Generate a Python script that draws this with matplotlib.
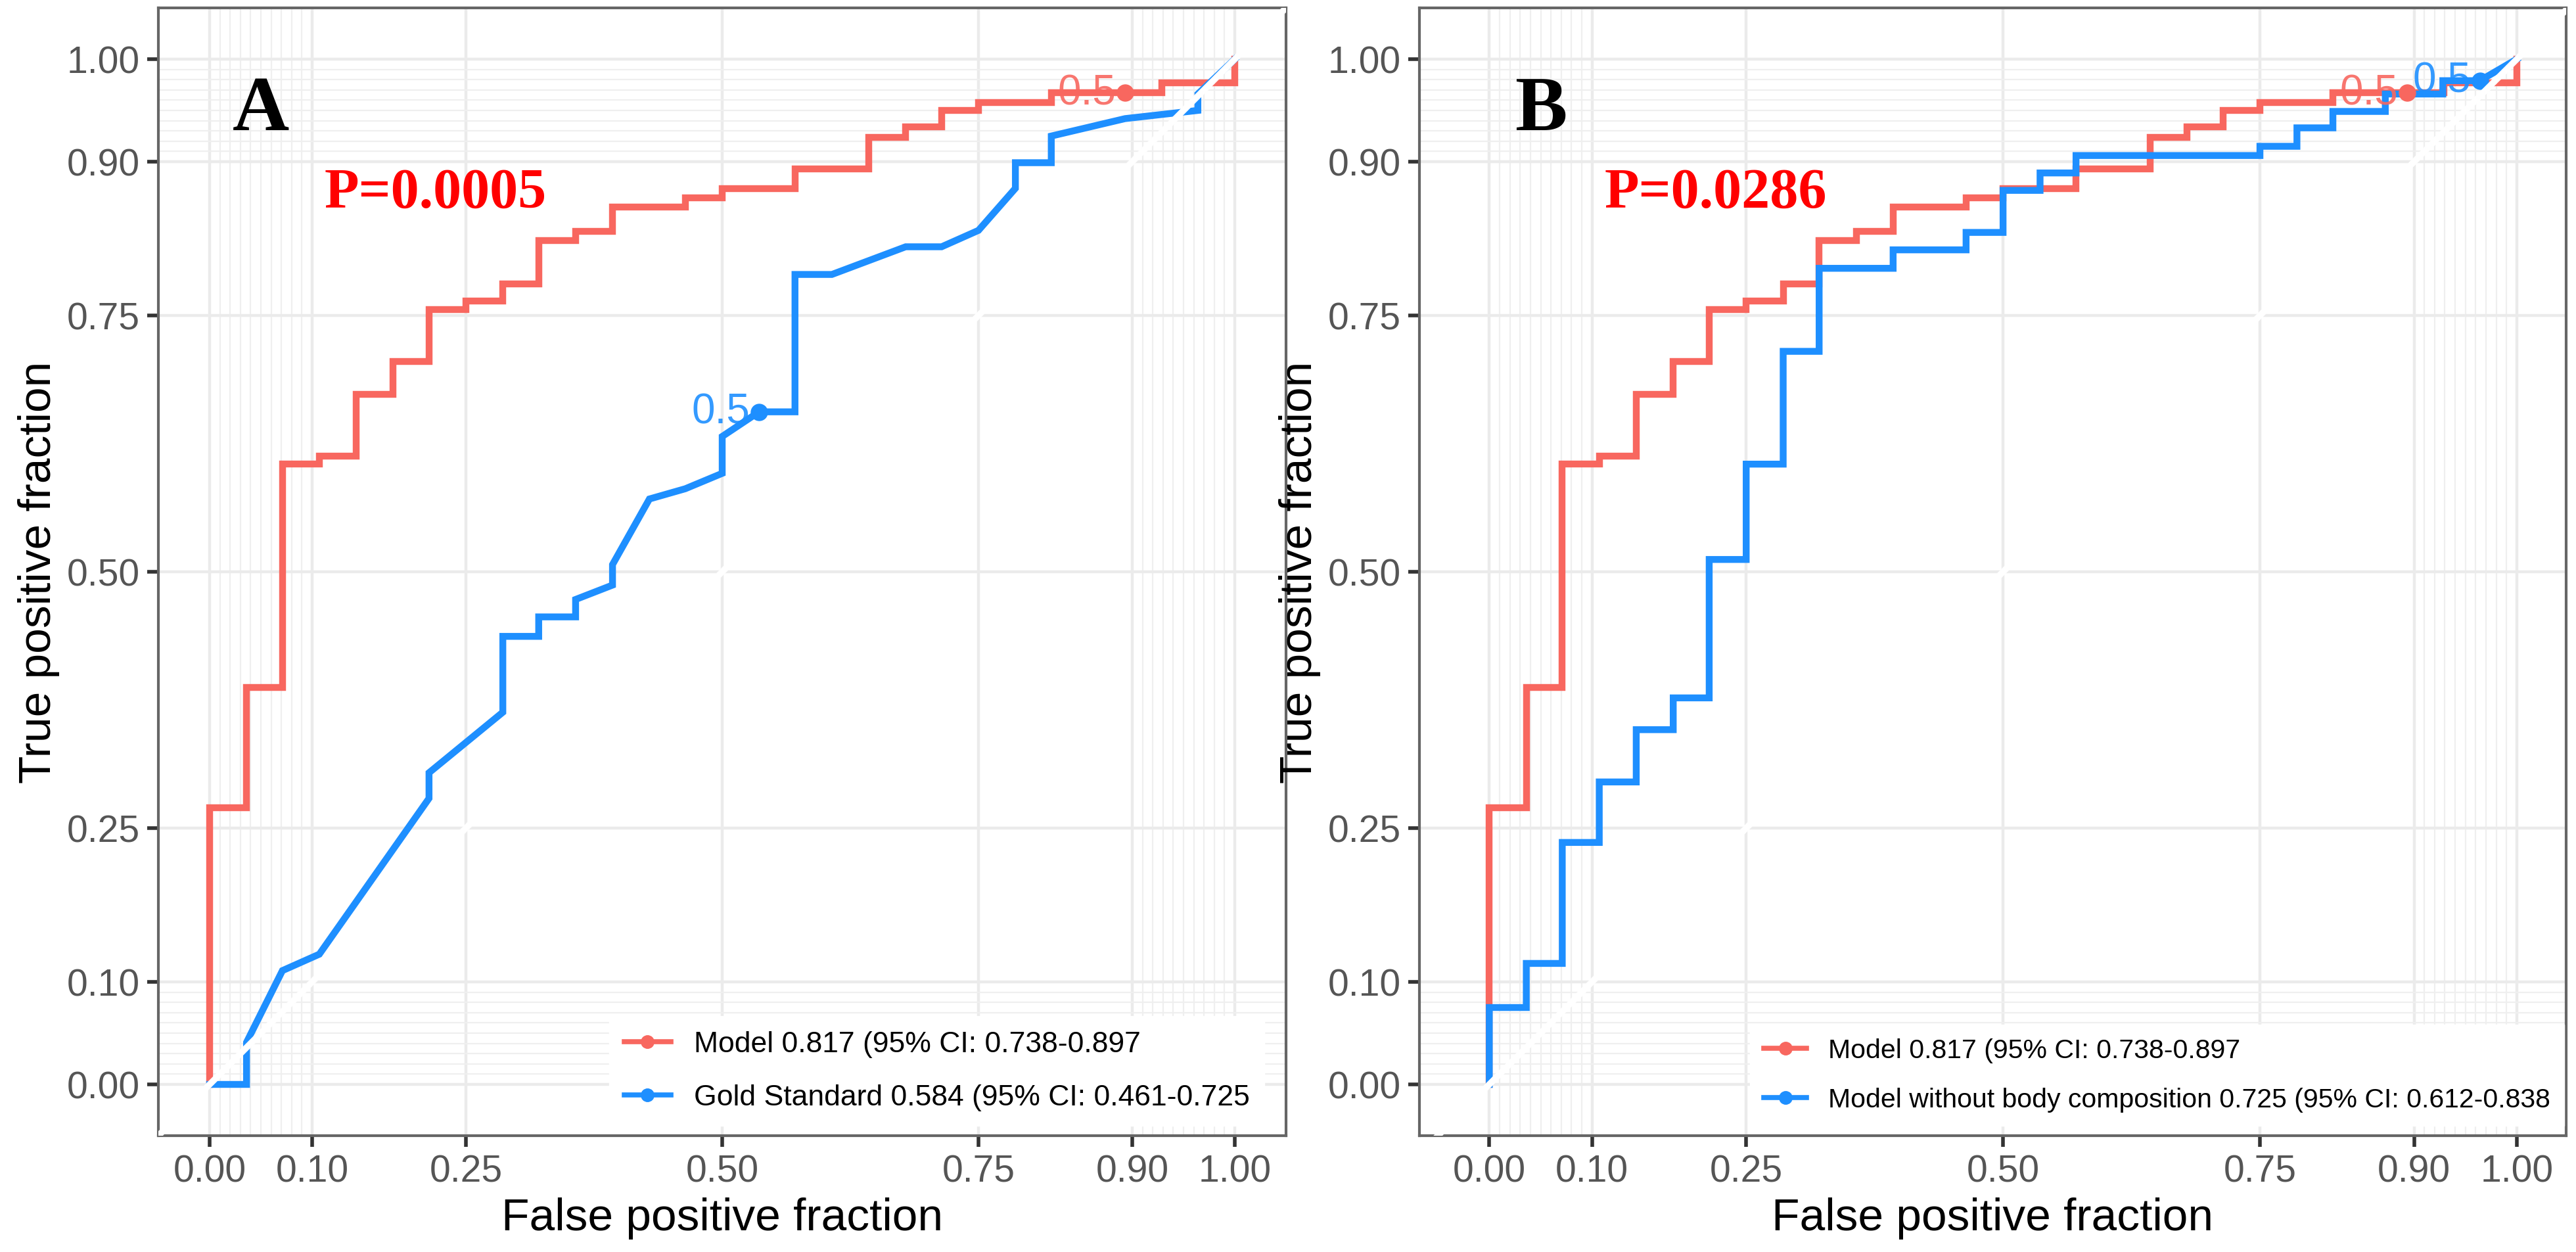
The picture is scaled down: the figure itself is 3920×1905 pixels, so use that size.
import matplotlib
matplotlib.use("Agg")
import matplotlib.pyplot as plt
from matplotlib.lines import Line2D
import numpy as np

# ROC vertices (false positive fraction, true positive fraction)
model_fpr = [0, 0, 0.036, 0.036, 0.071, 0.071, 0.107, 0.107, 0.143, 0.143, 0.179, 0.179,
             0.214, 0.214, 0.25, 0.25, 0.286, 0.286, 0.321, 0.321, 0.357, 0.357, 0.393, 0.393,
             0.464, 0.464, 0.5, 0.5, 0.571, 0.571, 0.643, 0.643, 0.679, 0.679, 0.714, 0.714,
             0.75, 0.75, 0.821, 0.821, 0.929, 0.929, 1.0, 1.0]
model_tpr = [0, 0.270, 0.270, 0.387, 0.387, 0.605, 0.605, 0.613, 0.613, 0.673, 0.673, 0.705,
             0.705, 0.756, 0.756, 0.764, 0.764, 0.781, 0.781, 0.823, 0.823, 0.832, 0.832, 0.856,
             0.856, 0.865, 0.865, 0.874, 0.874, 0.893, 0.893, 0.924, 0.924, 0.934, 0.934, 0.950,
             0.950, 0.958, 0.958, 0.967, 0.967, 0.977, 0.977, 1.0]

gold_fpr = [0, 0.036, 0.036, 0.071, 0.107, 0.214, 0.214, 0.286, 0.286, 0.321, 0.321, 0.357,
            0.357, 0.393, 0.393, 0.429, 0.464, 0.5, 0.5, 0.536, 0.571, 0.571, 0.607, 0.679,
            0.714, 0.75, 0.786, 0.786, 0.821, 0.821, 0.893, 0.964, 0.964, 1.0]
gold_tpr = [0, 0, 0.041, 0.111, 0.127, 0.279, 0.304, 0.363, 0.437, 0.437, 0.456, 0.456,
            0.473, 0.487, 0.507, 0.571, 0.581, 0.596, 0.632, 0.656, 0.656, 0.790, 0.790, 0.817,
            0.817, 0.833, 0.874, 0.899, 0.899, 0.925, 0.942, 0.950, 0.966, 1.0]

nobody_fpr = [0, 0, 0.036, 0.036, 0.071, 0.071, 0.107, 0.107, 0.143, 0.143, 0.179, 0.179,
              0.214, 0.214, 0.25, 0.25, 0.286, 0.286, 0.321, 0.321, 0.393, 0.393, 0.464, 0.464,
              0.5, 0.5, 0.536, 0.536, 0.571, 0.571, 0.75, 0.75, 0.786, 0.786, 0.821, 0.821,
              0.872, 0.872, 0.928, 0.928, 0.964, 1.0]
nobody_tpr = [0, 0.075, 0.075, 0.118, 0.118, 0.236, 0.236, 0.295, 0.295, 0.346, 0.346, 0.377,
              0.377, 0.512, 0.512, 0.605, 0.605, 0.715, 0.715, 0.796, 0.796, 0.814, 0.814, 0.831,
              0.831, 0.872, 0.872, 0.889, 0.889, 0.906, 0.906, 0.915, 0.915, 0.933, 0.933, 0.949,
              0.949, 0.966, 0.966, 0.979, 0.979, 1.0]

# cutoff 0.5 points
model_cut = (0.893, 0.967)
gold_cut = (0.536, 0.656)
nobody_cut = (0.964, 0.979)

model_label = "Model 0.817 (95% CI: 0.738-0.897"
gold_label = "Gold Standard 0.584 (95% CI: 0.461-0.725"
nobody_label = "Model without body composition 0.725 (95% CI: 0.612-0.838"

ticks = [0, 0.1, 0.25, 0.5, 0.75, 0.9, 1.0]
tick_labels = ["0.00", "0.10", "0.25", "0.50", "0.75", "0.90", "1.00"]
minor = list(np.round(np.arange(0, 0.101, 0.01), 2)) + list(np.round(np.arange(0.9, 1.001, 0.01), 2))

RED = "#F8675F"
BLUE = "#1E8FFF"
SANS = "Liberation Sans"
SERIF = "Liberation Serif"


def style_axes(ax, xlim):
    ax.set_xlim(*xlim)
    ax.set_ylim(-0.05, 1.05)
    ax.set_xticks(ticks)
    ax.set_xticklabels(tick_labels)
    ax.set_yticks(ticks)
    ax.set_yticklabels(tick_labels)
    ax.set_xticks(minor, minor=True)
    ax.set_yticks(minor, minor=True)
    ax.tick_params(which="major", length=12, width=4, color="#333333",
                   labelsize=41, labelcolor="#555555", pad=8)
    ax.tick_params(which="minor", length=0)
    for lab in ax.get_xticklabels() + ax.get_yticklabels():
        lab.set_family(SANS)
    ax.grid(which="major", color="#EBEBEB", lw=3.2)
    ax.grid(which="minor", color="#EFEFEF", lw=1.6)
    ax.set_axisbelow(True)
    for s in ax.spines.values():
        s.set_color("#666666")
        s.set_linewidth(3)
    ax.set_xlabel("False positive fraction", fontsize=50, family=SANS, labelpad=8)
    ax.set_ylabel("True positive fraction", fontsize=50, family=SANS, labelpad=8)


def draw_panel(ax, xlim, letter, ptext, curves, legend_anchor, legend_loc, legend_size):
    style_axes(ax, xlim)
    handles = []
    for fpr, tpr, cut, color, label in curves:
        ax.plot(fpr, tpr, color=color, lw=7.5, solid_joinstyle="miter", zorder=3)
        ax.plot([cut[0]], [cut[1]], "o", color=color, ms=18, zorder=4)
        ax.annotate("0.5", cut, xytext=(-10, 0), textcoords="offset points",
                    ha="right", va="center", color=color, fontsize=46, family=SANS,
                    alpha=0.9, zorder=4)
        handles.append(Line2D([0], [0], color=color, lw=5.5, marker="o", ms=14, label=label))
    # white reference diagonal drawn over the curves
    ax.axline((0, 0), slope=1, color="white", lw=7, zorder=5)
    ax.text(0.05, 0.95, letter, fontsize=86, fontweight="bold", family=SERIF,
            ha="center", va="center", zorder=6)
    ax.text(0.112, 0.869, ptext, fontsize=62, fontweight="bold", family=SERIF,
            color="#FF0000", ha="left", va="center", zorder=6)
    leg = ax.legend(handles=handles, loc=legend_loc, bbox_to_anchor=legend_anchor,
                    borderaxespad=0, frameon=True, fancybox=False, framealpha=1,
                    edgecolor="white", facecolor="white",
                    prop={"family": SANS, "size": legend_size},
                    handlelength=1.6, handletextpad=0.8, labelspacing=0.9, borderpad=0.5)
    leg.set_zorder(7)


fig = plt.figure(figsize=(39.2, 19.06), dpi=100)
axA = fig.add_axes([241 / 3920, 177 / 1906, 1716 / 3920, 1716 / 1906])
axB = fig.add_axes([2160 / 3920, 177 / 1906, 1745 / 3920, 1716 / 1906])

draw_panel(axA, (-0.05, 1.05), "A", "P=0.0005",
           [(model_fpr, model_tpr, model_cut, RED, model_label),
            (gold_fpr, gold_tpr, gold_cut, BLUE, gold_label)],
           (0.40, 0.009), "lower left", 32)
draw_panel(axB, (-0.068, 1.048), "B", "P=0.0286",
           [(model_fpr, model_tpr, model_cut, RED, model_label),
            (nobody_fpr, nobody_tpr, nobody_cut, BLUE, nobody_label)],
           (0.998, 0.009), "lower right", 29.5)

fig.savefig("out.png", dpi=100, facecolor="white")
